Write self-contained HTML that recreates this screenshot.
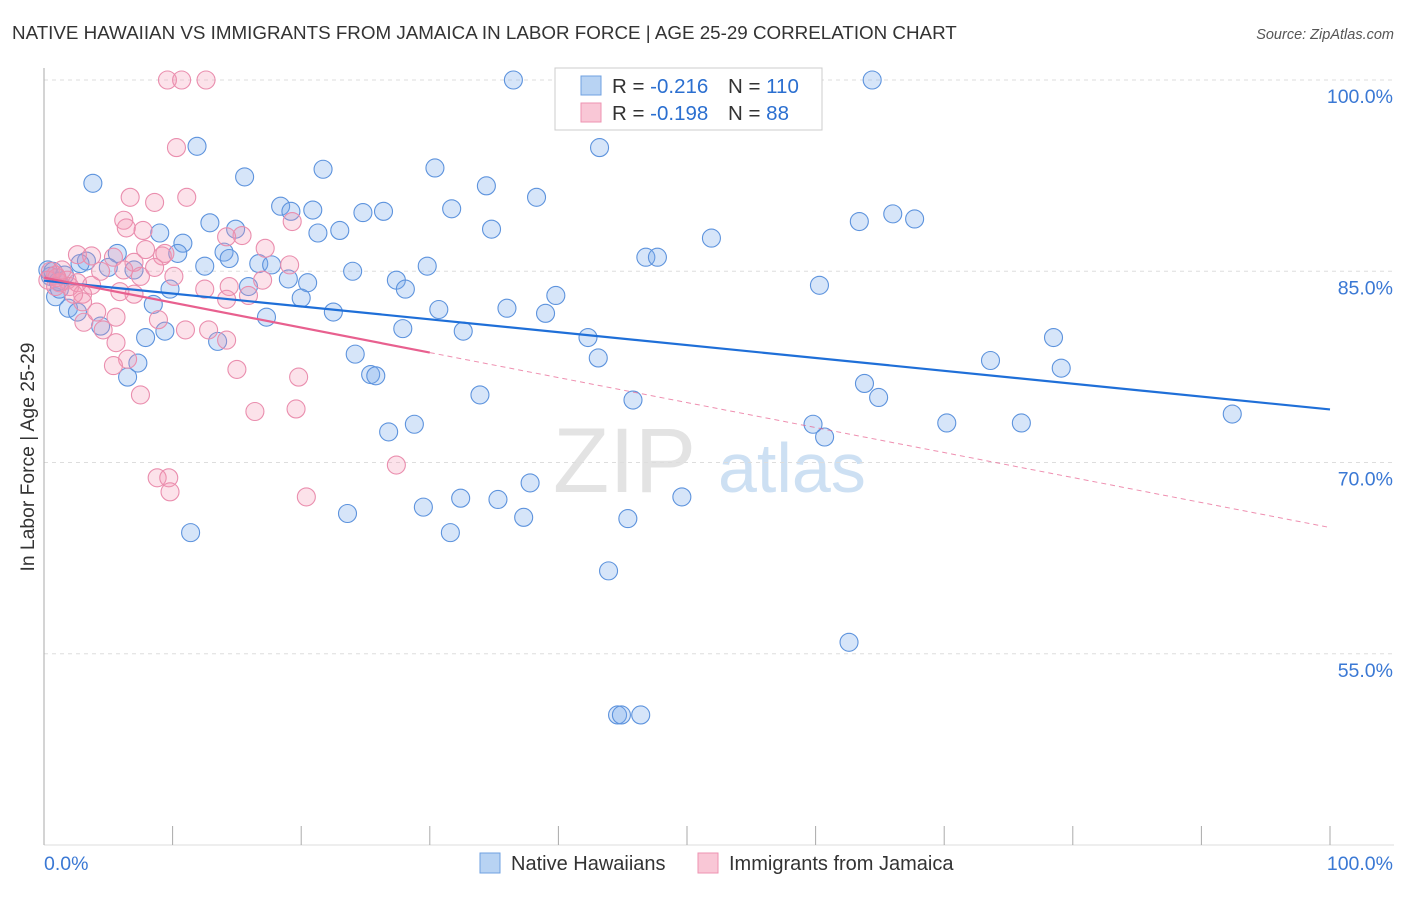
<!DOCTYPE html>
<html><head><meta charset="utf-8"><style>
body{margin:0;background:#fff;font-family:"Liberation Sans",sans-serif;}
svg text{font-family:"Liberation Sans",sans-serif;}
</style></head><body>
<svg id="chart" width="1406" height="892" viewBox="0 0 1406 892" xmlns="http://www.w3.org/2000/svg">
<text x="12" y="39" font-size="18.8" fill="#333">NATIVE HAWAIIAN VS IMMIGRANTS FROM JAMAICA IN LABOR FORCE | AGE 25-29 CORRELATION CHART</text>
<text x="1394" y="39" font-size="14.5" fill="#555" font-style="italic" text-anchor="end">Source: ZipAtlas.com</text>
<g>
<text x="553" y="492" font-size="92" fill="#d8d8d8" font-family="Liberation Serif" opacity="0.7">ZIP</text>
<text x="718" y="492" font-size="70" fill="#b9d3ee" opacity="0.7">atlas</text>
</g>
<g id="grid"></g>
<g id="axes"></g>
<g id="blue"></g>
<g id="pink"></g>
<g id="trends"></g>
<g>
<rect x="555" y="68" width="267" height="62" fill="#fff" stroke="#ccc"/>
<rect x="581" y="76" width="20" height="19" fill="#b8d3f3" stroke="#6fa0e0"/>
<rect x="581" y="103" width="20" height="19" fill="#f9c7d6" stroke="#ee93b2"/>
<text x="612" y="93" font-size="20.5" fill="#333">R = <tspan fill="#2b6fd0">-0.216</tspan></text>
<text x="728" y="93" font-size="20.5" fill="#333">N = <tspan fill="#2b6fd0">110</tspan></text>
<text x="612" y="120" font-size="20.5" fill="#333">R = <tspan fill="#2b6fd0">-0.198</tspan></text>
<text x="728" y="120" font-size="20.5" fill="#333">N = <tspan fill="#2b6fd0"> 88</tspan></text>
</g>
<g>
<rect x="480" y="853" width="20" height="20" fill="#b8d3f3" stroke="#6fa0e0"/>
<text x="511" y="870" font-size="20" fill="#333">Native Hawaiians</text>
<rect x="698" y="853" width="20" height="20" fill="#f9c7d6" stroke="#ee93b2"/>
<text x="729" y="870" font-size="20" fill="#333">Immigrants from Jamaica</text>
</g>
</svg>
<script>
const yTicks=[100,85,70,55];
const yTickLabels=["100.0%","85.0%","70.0%","55.0%"];
const xTickLabels=["0.0%","100.0%"];
const blueX=[36.5,64.4,11.9,43.2,3.8,15.6,21.7,30.4,34.4,38.3,18.4,19.2,20.9,24.8,26.4,31.7,12.9,14.9,9.0,10.8,21.3,23.0,34.8,51.9,63.4,66.0,67.7,10.4,14.0,3.3,5.7,12.5,14.4,16.7,17.7,24.0,29.8,46.8,47.7,5.0,7.0,19.0,20.5,27.4,28.1,60.3,0.9,9.8,15.9,20.0,22.5,36.0,39.0,39.8,30.7,8.5,1.9,2.6,17.3,27.9,32.6,42.3,78.5,4.4,7.9,9.4,13.5,24.2,43.1,73.6,79.1,6.5,7.3,25.4,25.8,33.9,45.8,63.8,64.9,70.2,76.0,92.4,26.8,28.8,59.8,60.7,37.8,49.6,32.4,35.3,23.6,29.5,37.3,45.4,31.6,11.4,43.9,62.6,44.6,44.9,46.4,0.5,0.3,0.7,1.1,1.6,1.2,2.8];
const blueY=[100,100,94.8,94.7,91.9,92.4,93.0,93.1,91.7,90.8,90.1,89.7,89.8,89.6,89.7,89.9,88.8,88.3,88.0,87.2,88.0,88.2,88.3,87.6,88.9,89.5,89.1,86.4,86.5,85.8,86.4,85.4,86.0,85.6,85.5,85.0,85.4,86.1,86.1,85.3,85.1,84.4,84.1,84.3,83.6,83.9,83.0,83.6,83.8,82.9,81.8,82.1,81.7,83.1,82.0,82.4,82.1,81.8,81.4,80.5,80.3,79.8,79.8,80.7,79.8,80.3,79.5,78.5,78.2,78.0,77.4,76.7,77.8,76.9,76.8,75.3,74.9,76.2,75.1,73.1,73.1,73.8,72.4,73.0,73.0,72.0,68.4,67.3,67.2,67.1,66.0,66.5,65.7,65.6,64.5,64.5,61.5,55.9,50.2,50.2,50.2,84.6,85.1,85.0,84.2,84.7,83.6,85.6];
const pinkX=[9.6,10.7,12.6,10.3,6.7,11.1,8.6,6.2,6.4,7.7,15.4,14.2,17.2,2.6,3.7,5.4,7.9,9.2,7.0,6.2,4.4,7.5,9.4,19.1,10.1,0.5,0.9,1.2,1.8,1.4,2.0,2.6,3.0,0.3,1.0,5.9,7.0,12.5,14.4,15.9,17.0,19.3,5.6,3.1,4.6,8.9,11.0,4.1,3.0,12.8,14.2,5.6,6.5,5.4,15.0,19.8,7.5,16.4,19.6,27.4,8.8,9.7,20.4,0.9,3.7,2.3,14.2,8.6,9.8];
const pinkY=[100,100,100,94.7,90.8,90.8,90.4,89.0,88.4,88.2,87.8,87.7,86.8,86.3,86.2,86.1,86.7,86.2,85.7,85.1,85.0,84.6,86.4,85.5,84.6,85.0,84.7,84.1,84.3,85.1,83.8,84.1,83.2,84.3,84.5,83.4,83.2,83.6,83.8,83.1,84.3,88.9,81.4,81.0,80.4,81.2,80.4,81.8,82.6,80.4,79.6,79.4,78.1,77.6,77.3,76.7,75.3,74.0,74.2,69.8,68.8,68.8,67.3,83.8,83.9,83.2,82.8,85.3,67.7];
const blueTrend=[84.26,74.16];
const pinkTrend=[84.5,64.9];
const pinkSolidEnd=30;

const NS="http://www.w3.org/2000/svg";
const X0=44,X1=1330,YTOP=80,YBOT=845;
const xs=v=>X0+(X1-X0)*v/100;
const ys=v=>YTOP+(100-v)*(YBOT-YTOP)/60;
function mk(tag,attrs,parent){const e=document.createElementNS(NS,tag);for(const k in attrs)e.setAttribute(k,attrs[k]);parent.appendChild(e);return e;}
const grid=document.getElementById('grid'),axes=document.getElementById('axes');
yTicks.forEach((t,i)=>{
  const l=mk('line',{x1:X0,x2:1394,y1:ys(t),y2:ys(t),stroke:'#ddd','stroke-dasharray':'4,4'},grid);
  
  
  const tx=mk('text',{x:1393,y:ys(t)+23,'font-size':19.5,fill:'#3a78d4','text-anchor':'end'},axes);
  tx.textContent=yTickLabels[i];
  
  
});
const ya=mk('line',{x1:X0,x2:X0,y1:68,y2:YBOT,stroke:'#aaa'},axes);


const xa=mk('line',{x1:X0,x2:1394,y1:YBOT,y2:YBOT,stroke:'#ddd'},axes);


for(let i=0;i<=10;i++){
  const tk=mk('line',{x1:xs(i*10),x2:xs(i*10),y1:826,y2:YBOT,stroke:'#aaa'},axes);
  
  
}
const xl0=mk('text',{x:44,y:870,'font-size':19.5,fill:'#3a78d4'},axes);xl0.textContent=xTickLabels[0];


const xl1=mk('text',{x:1393,y:870,'font-size':19.5,fill:'#3a78d4','text-anchor':'end'},axes);xl1.textContent=xTickLabels[1];


const yt=mk('text',{x:0,y:0,'font-size':19.3,fill:'#333','text-anchor':'middle',transform:'translate(34,457) rotate(-90)'},axes);
yt.textContent='In Labor Force | Age 25-29';


const bg=document.getElementById('blue');
blueX.forEach((x,i)=>{const c=mk('circle',{cx:xs(x),cy:ys(blueY[i]),r:9,fill:'rgba(120,170,235,0.3)',stroke:'#5d93dd','stroke-width':1.1},bg);

});
const pg=document.getElementById('pink');
pinkX.forEach((x,i)=>{const c=mk('circle',{cx:xs(x),cy:ys(pinkY[i]),r:9,fill:'rgba(245,150,180,0.28)',stroke:'#ea8eae','stroke-width':1.1},pg);

});
const tg=document.getElementById('trends');
const bt=mk('line',{x1:xs(0),y1:ys(blueTrend[0]),x2:xs(100),y2:ys(blueTrend[1]),stroke:'#1f6fd8','stroke-width':2.2},tg);


const pAt=v=>pinkTrend[0]+(pinkTrend[1]-pinkTrend[0])*v/100;
const ps=mk('line',{x1:xs(0),y1:ys(pinkTrend[0]),x2:xs(pinkSolidEnd),y2:ys(pAt(pinkSolidEnd)),stroke:'#e8608f','stroke-width':2.2},tg);


const pd=mk('line',{x1:xs(pinkSolidEnd),y1:ys(pAt(pinkSolidEnd)),x2:xs(100),y2:ys(pinkTrend[1]),stroke:'#e8608f','stroke-width':1,'stroke-dasharray':'5,4',opacity:0.7},tg);


</script>
</body></html>
